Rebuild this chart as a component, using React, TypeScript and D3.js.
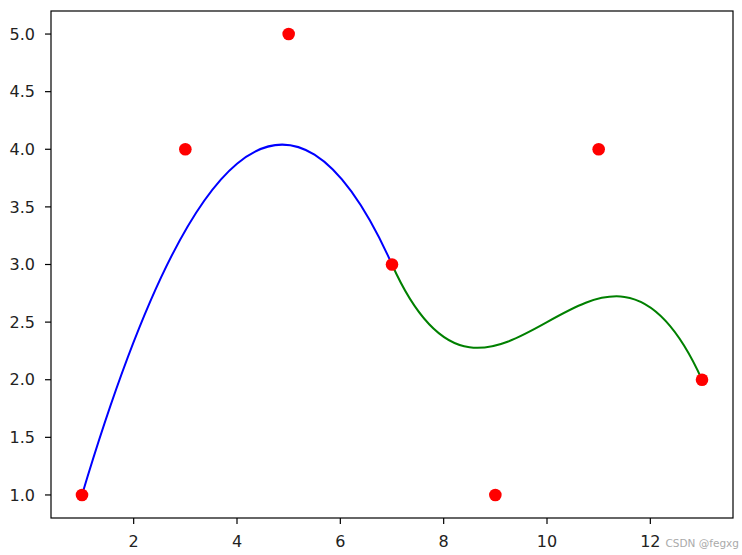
import React from "react";
import * as d3 from "d3";

const pointX = [1, 3, 5, 7, 9, 11, 13];
const pointY = [1, 4, 5, 3, 1, 4, 2];
const segmentColors = ["blue", "green"];
const xTicks = [2, 4, 6, 8, 10, 12];
const yTicks = [1.0, 1.5, 2.0, 2.5, 3.0, 3.5, 4.0, 4.5, 5.0];

const W = 742;
const H = 555;
const M = { left: 51, right: 733, top: 11, bottom: 518 };

export default function App() {
  const x = d3.scaleLinear().domain([0.4, 13.6]).range([M.left, M.right]);
  const y = d3.scaleLinear().domain([0.8, 5.2]).range([M.bottom, M.top]);

  const segments = segmentColors.map((c, s) => {
    const i = s * 3;
    const p = d3.path();
    p.moveTo(x(pointX[i]), y(pointY[i]));
    p.bezierCurveTo(
      x(pointX[i + 1]), y(pointY[i + 1]),
      x(pointX[i + 2]), y(pointY[i + 2]),
      x(pointX[i + 3]), y(pointY[i + 3])
    );
    return { d: p.toString(), color: c };
  });

  const font = "DejaVu Sans, sans-serif";
  return (
    <svg width={W} height={H} style={{ position: "absolute", left: 0, top: 0, background: "#fff" }}>
      <rect x={0} y={0} width={W} height={H} fill="#fff" />
      {segments.map((s, k) => (
        <path key={k} d={s.d} fill="none" stroke={s.color} strokeWidth={2} />
      ))}
      {pointX.map((px, k) => (
        <circle key={k} cx={x(px)} cy={y(pointY[k])} r={6.3} fill="red" />
      ))}
      <rect x={M.left} y={M.top} width={M.right - M.left} height={M.bottom - M.top} fill="none" stroke="#000" strokeWidth={1.2} />
      {xTicks.map((t) => (
        <g key={t}>
          <line x1={x(t)} x2={x(t)} y1={M.bottom} y2={M.bottom + 6} stroke="#000" strokeWidth={1.2} />
          <text x={x(t)} y={547} textAnchor="middle" fontFamily={font} fontSize={16} fill="#222">{t}</text>
        </g>
      ))}
      {yTicks.map((t) => (
        <g key={t}>
          <line x1={M.left - 6} x2={M.left} y1={y(t)} y2={y(t)} stroke="#000" strokeWidth={1.2} />
          <text x={35} y={y(t)} dy="0.36em" textAnchor="end" fontFamily={font} fontSize={16} fill="#222">{t.toFixed(1)}</text>
        </g>
      ))}
      <text x={739} y={547} textAnchor="end" fontFamily={font} fontSize={10.5} fill="#aaa">CSDN @fegxg</text>
    </svg>
  );
}
